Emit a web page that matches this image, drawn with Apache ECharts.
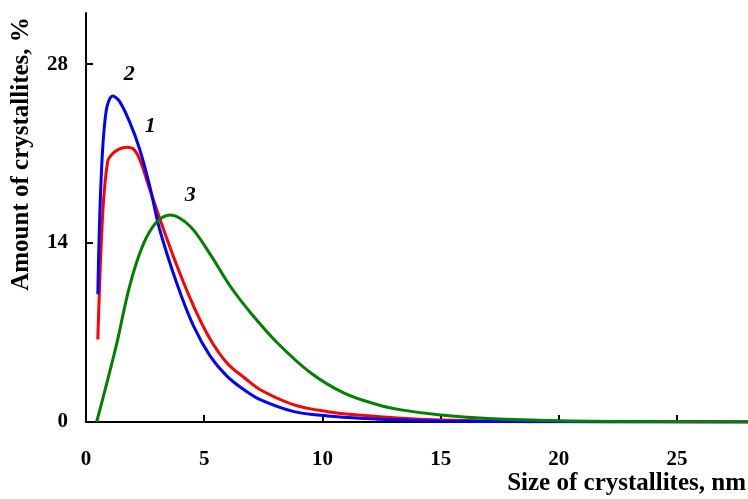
<!DOCTYPE html>
<html lang="en">
<head>
    <meta charset="UTF-8">
    <script src="https://cdn.jsdelivr.net/npm/echarts@6/dist/echarts.min.js"></script>
</head>
<body style="margin:0;">

<div id="main" style="width: 748px;height:499px;"></div>

<script type="text/javascript">
    // curve 1 (red)
    var x1 = [0.5, 0.71, 0.92, 1.13, 1.4, 1.7, 1.98, 2.26, 2.69, 3.14, 3.85, 4.55, 5.26, 5.97, 6.7, 7.39, 8.8, 10.22, 11.8, 13.33, 15, 17.5, 20, 24, 28];
    var y1 = [6.45, 16.4, 20.4, 21.0, 21.35, 21.5, 21.4, 20.6, 18.25, 15.8, 12.2, 9.07, 6.45, 4.6, 3.46, 2.5, 1.34, 0.81, 0.5, 0.29, 0.16, 0.07, 0.03, 0.01, 0];
    // curve 2 (blue)
    var x2 = [0.5, 0.64, 0.85, 1.13, 1.41, 1.84, 2.26, 2.69, 3.11, 3.85, 4.55, 5.26, 5.97, 6.7, 7.39, 8.8, 10.22, 11.8, 13.33, 15, 17.5, 20, 28];
    var y2 = [10.0, 19.0, 24.3, 25.5, 25.1, 23.5, 21.4, 18.5, 15.1, 10.8, 7.5, 5.14, 3.57, 2.5, 1.73, 0.81, 0.47, 0.27, 0.16, 0.08, 0.03, 0.01, 0];
    // curve 3 (green)
    var x3 = [0.45, 1.27, 1.84, 2.4, 2.97, 3.57, 4.41, 5.26, 6.11, 6.96, 8.09, 9.51, 10.92, 12.34, 13.33, 15, 17, 20, 24, 28];
    var y3 = [0, 5.9, 10.6, 13.8, 15.6, 16.2, 15.3, 13.1, 10.6, 8.55, 6.2, 3.83, 2.26, 1.35, 0.95, 0.55, 0.28, 0.1, 0.03, 0];

    var xTicks = [0, 5, 10, 15, 20, 25];
    var yTicks = [0, 14, 28];

    // curve number labels [x, y, text]
    var curveLabels = [[2.72, 23.1, '1'], [1.83, 27.2, '2'], [4.41, 17.7, '3']];

    function pairs(xs, ys) {
        return xs.map(function (x, i) { return [x, ys[i]]; });
    }

    var font = "'Liberation Serif', 'Times New Roman', serif";

    function line(name, xs, ys, color, lab) {
        return {
            name: name,
            type: 'line',
            data: pairs(xs, ys),
            smooth: 0.35,
            showSymbol: false,
            lineStyle: {color: color, width: 3},
            itemStyle: {color: color},
            markPoint: {
                symbolSize: 0,
                label: {
                    show: true, position: 'inside', formatter: lab[2],
                    color: '#000', fontFamily: font, fontWeight: 'bold',
                    fontStyle: 'italic', fontSize: 22
                },
                data: [{coord: [lab[0], lab[1]]}]
            }
        };
    }

    var myChart = echarts.init(document.getElementById('main'));

    var option = {
        animation: false,
        grid: {left: 86, right: 0, top: 13, bottom: 77},
        xAxis: {
            type: 'value', min: 0, max: 28,
            splitLine: {show: false},
            axisLine: {lineStyle: {color: '#000', width: 2}},
            axisTick: {inside: true, length: 7, customValues: xTicks, lineStyle: {color: '#000', width: 2}},
            axisLabel: {customValues: xTicks, margin: 27, color: '#000', fontFamily: font, fontWeight: 'bold', fontSize: 21}
        },
        yAxis: {
            type: 'value', min: 0, max: 32,
            splitLine: {show: false},
            axisLine: {show: true, lineStyle: {color: '#000', width: 2}},
            axisTick: {show: true, inside: true, length: 7, customValues: yTicks, lineStyle: {color: '#000', width: 2}},
            axisLabel: {customValues: yTicks, margin: 18, color: '#000', fontFamily: font, fontWeight: 'bold', fontSize: 21}
        },
        graphic: [
            {
                type: 'text', x: 22, y: 154, rotation: Math.PI / 2,
                style: {
                    text: 'Amount of crystallites, %', align: 'center', verticalAlign: 'middle',
                    fill: '#000', font: 'bold 25px ' + font
                }
            },
            {
                type: 'text', right: 2, top: 471,
                style: {
                    text: 'Size of crystallites, nm', fill: '#000', font: 'bold 25px ' + font
                }
            }
        ],
        series: [
            line('1', x1, y1, '#ff0000', curveLabels[0]),
            line('2', x2, y2, '#0000ff', curveLabels[1]),
            line('3', x3, y3, '#008000', curveLabels[2])
        ]
    };

    myChart.setOption(option);
</script>
</body>
</html>
